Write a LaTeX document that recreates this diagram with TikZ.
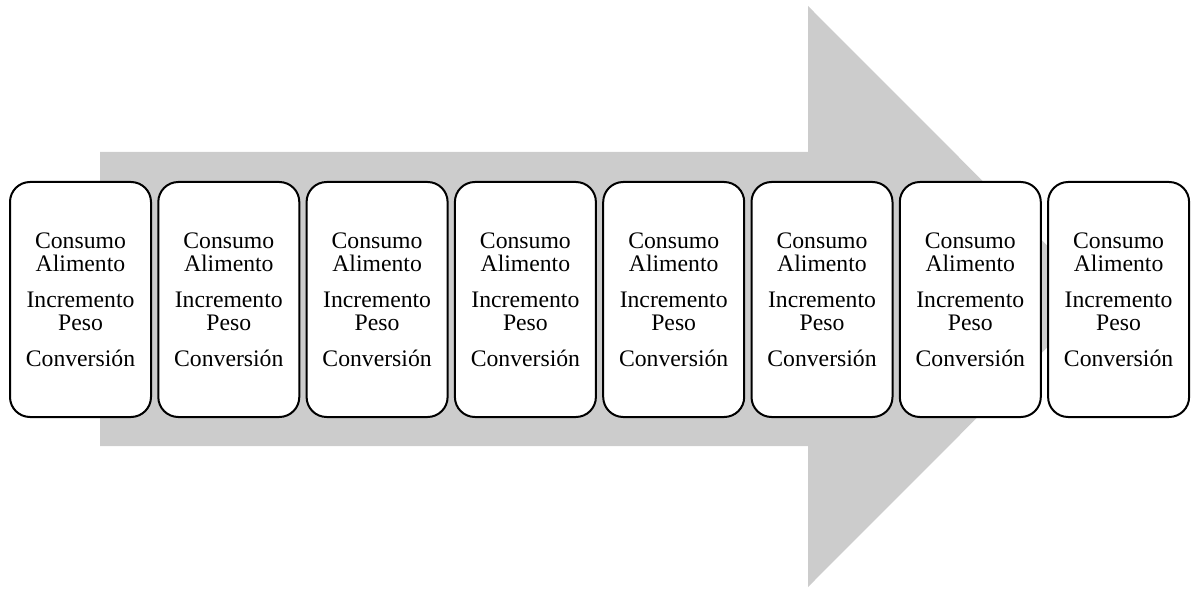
\documentclass[tikz,border=0pt]{standalone}
\usepackage{fontspec}
\setmainfont{Liberation Serif}
\definecolor{arrowgray}{HTML}{CCCCCC}
\begin{document}
\begin{tikzpicture}[x=1pt,y=-1pt,
  stagebox/.style={draw=black, line width=2pt, fill=white, rounded corners=20pt,
    minimum width=141pt, minimum height=235pt, inner sep=0pt, align=center,
    font=\fontsize{23.7}{23.5}\selectfont}]
\useasboundingbox (0,0) rectangle (1192,591);
\fill[arrowgray] (100,152) -- (808,152) -- (808,6) -- (1098,296.5) -- (808,587) -- (808,446) -- (100,446) -- cycle;
\foreach \i in {0,...,7}{
  \node[stagebox] (b\i) at ({80.5+\i*148.3},299.5)
    {Consumo\\Alimento\\[12pt]Incremento\\Peso\\[12pt]Conversión};
}
\end{tikzpicture}
\end{document}
